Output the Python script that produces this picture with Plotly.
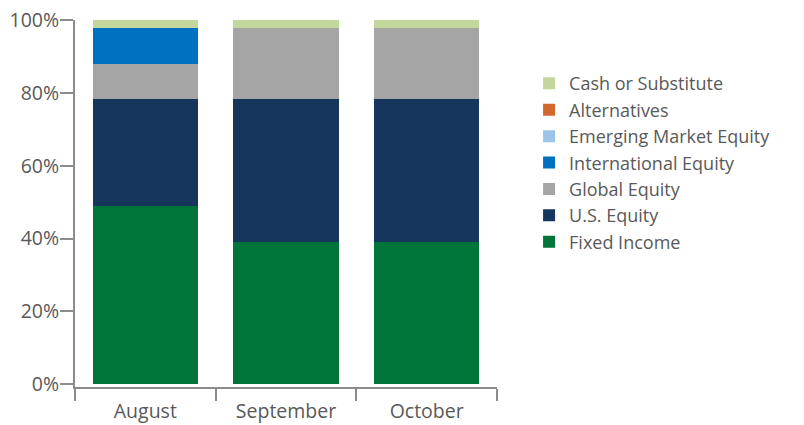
import plotly.graph_objects as go

months = ["August", "September", "October"]
fixed_income = [49.0, 39.0, 39.0]
us_equity = [29.5, 39.5, 39.5]
global_equity = [9.5, 19.5, 19.5]
international_equity = [10.0, 0.0, 0.0]
emerging_equity = [0.0, 0.0, 0.0]
alternatives = [0.0, 0.0, 0.0]
cash = [2.0, 2.0, 2.0]
y_tick_values = [0, 20, 40, 60, 80, 100]
y_tick_labels = ["0%", "20%", "40%", "60%", "80%", "100%"]

series = [
    ("Fixed Income", fixed_income, "#00753A"),
    ("U.S. Equity", us_equity, "#17365D"),
    ("Global Equity", global_equity, "#A5A5A5"),
    ("International Equity", international_equity, "#0070C0"),
    ("Emerging Market Equity", emerging_equity, "#9DC3E6"),
    ("Alternatives", alternatives, "#D0692C"),
    ("Cash or Substitute", cash, "#C3D69B"),
]

fig = go.Figure()
for name, vals, color in series:
    fig.add_trace(go.Bar(x=months, y=vals, name=name, marker=dict(color=color, line=dict(width=0))))

axis_color = "#8C8C8C"
font_color = "#595959"
fig.update_layout(
    width=804, height=425,
    barmode="stack", bargap=0.25,
    margin=dict(l=75, r=307, t=20, b=38),
    paper_bgcolor="white", plot_bgcolor="white",
    font=dict(family="Open Sans, Noto Sans, sans-serif", size=19.5, color=font_color),
    showlegend=True,
    legend=dict(
        traceorder="reversed", x=1.076, xanchor="left", y=0.877, yanchor="top",
        font=dict(size=18, color=font_color), tracegroupgap=0, itemwidth=30,
        bgcolor="rgba(0,0,0,0)",
    ),
    xaxis=dict(
        showline=True, linecolor=axis_color, linewidth=2, automargin=False,
        ticks="outside", tickson="boundaries", ticklen=12, tickwidth=2, tickcolor=axis_color,
        showgrid=False, zeroline=False, ticklabelstandoff=6,
        tickfont=dict(size=19.5, color=font_color),
    ),
    yaxis=dict(
        range=[-0.8, 100.1], showline=True, linecolor=axis_color, linewidth=2, automargin=False,
        ticks="outside", ticklen=13, tickwidth=2, tickcolor=axis_color,
        tickmode="array", tickvals=y_tick_values, ticktext=y_tick_labels,
        showgrid=False, zeroline=False, ticklabelstandoff=-3, ticklabeloverflow="allow",
        tickfont=dict(size=19.5, color=font_color),
    ),
)

fig.write_html("out.html", config={"displayModeBar": False},
               post_script="document.body.style.margin='0';")
